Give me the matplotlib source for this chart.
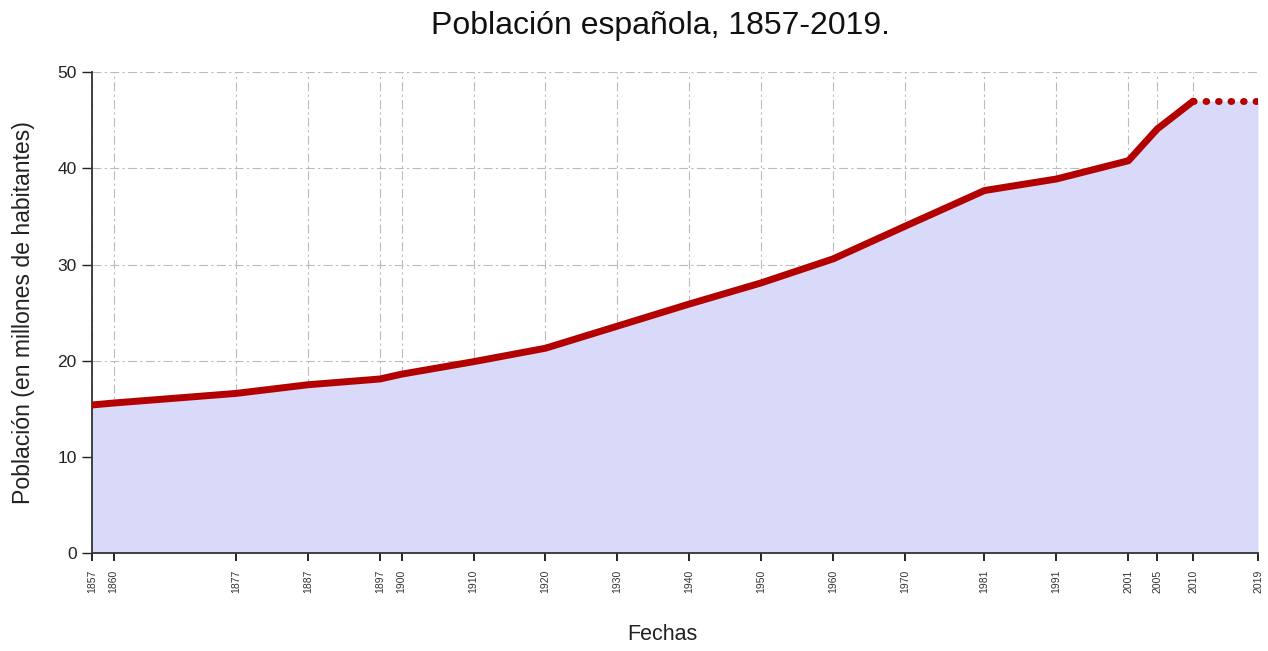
import numpy as np
import matplotlib.pyplot as plt

plt.rcParams['font.family'] = ['Liberation Sans', 'DejaVu Sans']

# Población de España (millones de habitantes) por año de censo
years = [1857, 1860, 1877, 1887, 1897, 1900, 1910, 1920, 1930, 1940,
         1950, 1960, 1970, 1981, 1991, 2001, 2005, 2010]
population = [15.4, 15.6, 16.6, 17.5, 18.1, 18.6, 19.9, 21.3, 23.6, 25.9,
              28.1, 30.6, 34.0, 37.7, 38.9, 40.8, 44.1, 47.0]
# último dato extendido hasta 2019 (línea punteada)
extension_years = [2010, 2019]
extension_population = [47.0, 47.0]

tick_years = years + [2019]

fig = plt.figure(figsize=(12.68, 6.51), dpi=100)
ax = fig.add_axes([0.0726, 0.1505, 0.9195, 0.7385])

all_years = years + extension_years[1:]
all_pop = population + extension_population[1:]
ax.fill_between(all_years, all_pop, 0, color='#d9d9fa', linewidth=0, zorder=1)

ax.plot(years, population, color='#b30000', linewidth=5, solid_capstyle='round',
        solid_joinstyle='round', zorder=3)
ax.plot(extension_years, extension_population, color='#b30000', linewidth=5,
        linestyle=(0, (0.1, 1.7)), dash_capstyle='round', zorder=3)

ax.set_xlim(1857, 2019)
ax.set_ylim(0, 50)
ax.set_xticks(tick_years)
ax.set_xticklabels([str(y) for y in tick_years], rotation=90, fontsize=7.5, color='#333333')
ax.set_yticks([0, 10, 20, 30, 40, 50])
ax.tick_params(axis='y', labelsize=12.5, length=7, width=1, pad=4, colors='#222222')
ax.tick_params(axis='x', length=6, width=1.2, pad=6)

ax.grid(True, color='#bbbbbb', linestyle=(0, (8, 3, 2, 3)), linewidth=0.8, zorder=0)
ax.set_axisbelow(True)

for side in ['top', 'right']:
    ax.spines[side].set_visible(False)
for side in ['left', 'bottom']:
    ax.spines[side].set_color('#333333')
    ax.spines[side].set_linewidth(1.3)

fig.text(0.521, 0.960, 'Población española, 1857-2019.', fontsize=23,
         ha='center', va='center', color='#111111')
fig.text(0.522, 0.025, 'Fechas', fontsize=15.5, ha='center', va='center', color='#222222')
ax.set_ylabel('Población (en millones de habitantes)', fontsize=16.6, labelpad=16,
              color='#222222')

fig.savefig('out.png', dpi=100)
